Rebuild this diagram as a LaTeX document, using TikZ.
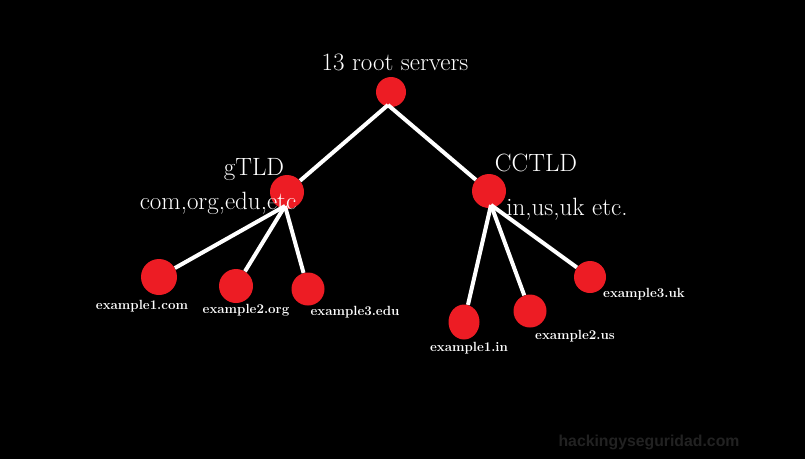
\documentclass[tikz,border=0pt]{standalone}
\usepackage{fontspec}
\usetikzlibrary{shapes.geometric}
\newfontfamily\wmfont{Liberation Sans}
\definecolor{dotred}{HTML}{ED1C24}
\definecolor{wmgray}{HTML}{222222}
\begin{document}
\begin{tikzpicture}[x=1pt,y=-1pt,
  dot/.style={circle,fill=dotred,inner sep=0pt,minimum size=#1},
  link/.style={white,line width=4pt},
  big/.style={text=white,inner sep=0pt,anchor=base,font=\fontsize{25}{28}\selectfont},
  small/.style={text=white,inner sep=0pt,anchor=base,font=\fontsize{13.3}{15}\selectfont\bfseries}]
\fill[black] (0,0) rectangle (805,459);
\useasboundingbox (0,0) rectangle (805,459);
% nodes
\node[dot=30] (root) at (391,92) {};
\node[dot=34] (gtld) at (287,192) {};
\node[dot=34] (cctld) at (489,191) {};
\node[dot=36] (ex1com) at (159,277) {};
\node[dot=34] (ex2org) at (236,286) {};
\node[dot=33] (ex3edu) at (308,289) {};
\node[ellipse,fill=dotred,inner sep=0pt,minimum width=31,minimum height=35] (ex1in) at (464,322) {};
\node[dot=33] (ex2us) at (530,311) {};
\node[dot=32] (ex3uk) at (590,277) {};
% connector ends
\coordinate (rb) at (388,105);
\coordinate (gb) at (285,206);
\coordinate (cb) at (491,205);
% connectors
\draw[link] (rb) -- (gtld);
\draw[link] (rb) -- (cctld);
\draw[link] (gb) -- (ex1com);
\draw[link] (gb) -- (ex2org);
\draw[link] (gb) -- (ex3edu);
\draw[link] (cb) -- (ex1in);
\draw[link] (cb) -- (ex2us);
\draw[link] (cb) -- (ex3uk);
% labels
\node[big] (troot) at (395,70) {13 root servers};
\node[big] (tg) at (254,175) {gTLD};
\node[big] (tc) at (536,171) {CCTLD};
\node[big] (tgl) at (218,209) {com,org,edu,etc};
\node[big] (tcl) at (567,215) {in,us,uk etc.};
\node[small] (l1) at (142,309) {example1.com};
\node[small] (l2) at (246,313) {example2.org};
\node[small] (l3) at (355,315) {example3.edu};
\node[small] (l4) at (469,351) {example1.in};
\node[small] (l5) at (575,339) {example2.us};
\node[small] (l6) at (644,297) {example3.uk};
\node[text=wmgray,inner sep=0pt,anchor=base,font=\wmfont\fontsize{15.8}{18}\selectfont\bfseries] (wm) at (649,446) {hackingyseguridad.com};
\end{tikzpicture}
\end{document}
